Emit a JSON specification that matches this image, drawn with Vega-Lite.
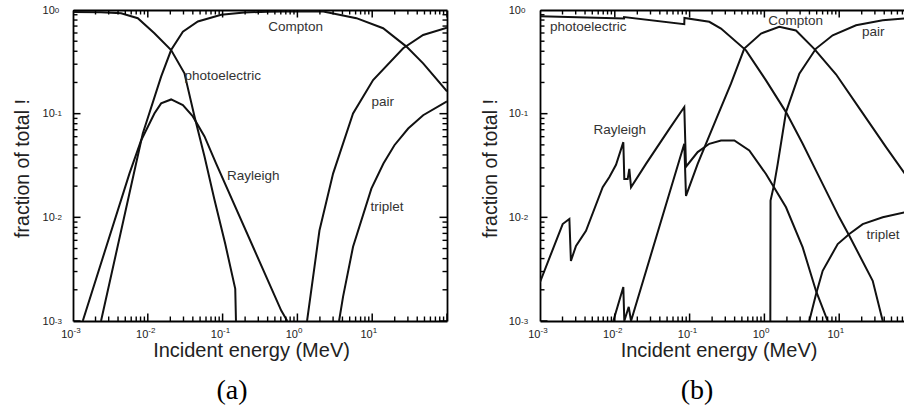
{
  "$schema": "https://vega.github.io/schema/vega-lite/v6.json",
  "background": "white",
  "padding": {"left": 12, "top": 4, "right": 0, "bottom": 0},
  "autosize": {"type": "pad"},
  "bounds": "flush",
  "spacing": 93,
  "config": {
    "font": "Liberation Sans",
    "view": {"stroke": null},
    "axis": {"grid": false, "ticks": false, "domainColor": "#000", "domainWidth": 1.8, "labelColor": "#222", "titleColor": "#222", "titleFontWeight": "normal", "labelFlush": false, "labelOverlap": false, "labelFont": "Liberation Sans", "titleFont": "Liberation Sans"},
    "tick": {"opacity": 1, "color": "#000"},
    "title": {"font": "Liberation Serif", "fontWeight": "normal", "color": "#000"}
  },
  "datasets": {
    "xMajA": [{"v": 0.001}, {"v": 0.01}, {"v": 0.1}, {"v": 1}, {"v": 10}, {"v": 100}],
    "xMinA": [{"v": 0.002}, {"v": 0.003}, {"v": 0.004}, {"v": 0.005}, {"v": 0.006}, {"v": 0.007}, {"v": 0.008}, {"v": 0.009}, {"v": 0.02}, {"v": 0.03}, {"v": 0.04}, {"v": 0.05}, {"v": 0.06}, {"v": 0.07}, {"v": 0.08}, {"v": 0.09}, {"v": 0.2}, {"v": 0.3}, {"v": 0.4}, {"v": 0.5}, {"v": 0.6}, {"v": 0.7}, {"v": 0.8}, {"v": 0.9}, {"v": 2}, {"v": 3}, {"v": 4}, {"v": 5}, {"v": 6}, {"v": 7}, {"v": 8}, {"v": 9}, {"v": 20}, {"v": 30}, {"v": 40}, {"v": 50}, {"v": 60}, {"v": 70}, {"v": 80}, {"v": 90}],
    "xMajB": [{"v": 0.001}, {"v": 0.01}, {"v": 0.1}, {"v": 1}, {"v": 10}],
    "xMinB": [{"v": 0.002}, {"v": 0.003}, {"v": 0.004}, {"v": 0.005}, {"v": 0.006}, {"v": 0.007}, {"v": 0.008}, {"v": 0.009}, {"v": 0.02}, {"v": 0.03}, {"v": 0.04}, {"v": 0.05}, {"v": 0.06}, {"v": 0.07}, {"v": 0.08}, {"v": 0.09}, {"v": 0.2}, {"v": 0.3}, {"v": 0.4}, {"v": 0.5}, {"v": 0.6}, {"v": 0.7}, {"v": 0.8}, {"v": 0.9}, {"v": 2}, {"v": 3}, {"v": 4}, {"v": 5}, {"v": 6}, {"v": 7}, {"v": 8}, {"v": 9}, {"v": 20}, {"v": 30}, {"v": 40}, {"v": 50}, {"v": 60}, {"v": 70}],
    "yMaj": [{"v": 0.001}, {"v": 0.01}, {"v": 0.1}, {"v": 1}],
    "yMin": [{"v": 0.002}, {"v": 0.003}, {"v": 0.004}, {"v": 0.005}, {"v": 0.006}, {"v": 0.007}, {"v": 0.008}, {"v": 0.009}, {"v": 0.02}, {"v": 0.03}, {"v": 0.04}, {"v": 0.05}, {"v": 0.06}, {"v": 0.07}, {"v": 0.08}, {"v": 0.09}, {"v": 0.2}, {"v": 0.3}, {"v": 0.4}, {"v": 0.5}, {"v": 0.6}, {"v": 0.7}, {"v": 0.8}, {"v": 0.9}],
    "a": [
      {"s": "photoelectric", "E": 0.001, "f": 0.955}, {"s": "photoelectric", "E": 0.00237, "f": 0.95}, {"s": "photoelectric", "E": 0.0044, "f": 0.93}, {"s": "photoelectric", "E": 0.00735, "f": 0.834}, {"s": "photoelectric", "E": 0.01225, "f": 0.597}, {"s": "photoelectric", "E": 0.0205, "f": 0.411}, {"s": "photoelectric", "E": 0.0309, "f": 0.245}, {"s": "photoelectric", "E": 0.0421, "f": 0.094}, {"s": "photoelectric", "E": 0.0573, "f": 0.0386}, {"s": "photoelectric", "E": 0.0773, "f": 0.0151}, {"s": "photoelectric", "E": 0.1084, "f": 0.00556}, {"s": "photoelectric", "E": 0.1476, "f": 0.00204}, {"s": "photoelectric", "E": 0.152, "f": 0.0008},
      {"s": "Compton", "E": 0.00237, "f": 0.001}, {"s": "Compton", "E": 0.00697, "f": 0.033}, {"s": "Compton", "E": 0.00857, "f": 0.0643}, {"s": "Compton", "E": 0.01507, "f": 0.2275}, {"s": "Compton", "E": 0.0205, "f": 0.411}, {"s": "Compton", "E": 0.02944, "f": 0.619}, {"s": "Compton", "E": 0.0467, "f": 0.774}, {"s": "Compton", "E": 0.0957, "f": 0.898}, {"s": "Compton", "E": 0.1945, "f": 0.946}, {"s": "Compton", "E": 0.398, "f": 0.964}, {"s": "Compton", "E": 1, "f": 0.973}, {"s": "Compton", "E": 2.223, "f": 0.968}, {"s": "Compton", "E": 6.152, "f": 0.834}, {"s": "Compton", "E": 13.99, "f": 0.667}, {"s": "Compton", "E": 28.71, "f": 0.4436}, {"s": "Compton", "E": 47.97, "f": 0.3055}, {"s": "Compton", "E": 100, "f": 0.164},
      {"s": "Rayleigh", "E": 0.00135, "f": 0.001}, {"s": "Rayleigh", "E": 0.00568, "f": 0.0264}, {"s": "Rayleigh", "E": 0.00813, "f": 0.0551}, {"s": "Rayleigh", "E": 0.01225, "f": 0.1005}, {"s": "Rayleigh", "E": 0.01507, "f": 0.1256}, {"s": "Rayleigh", "E": 0.0205, "f": 0.1371}, {"s": "Rayleigh", "E": 0.02944, "f": 0.1208}, {"s": "Rayleigh", "E": 0.04, "f": 0.094}, {"s": "Rayleigh", "E": 0.0573, "f": 0.0603}, {"s": "Rayleigh", "E": 0.082, "f": 0.033}, {"s": "Rayleigh", "E": 0.608, "f": 0.00126}, {"s": "Rayleigh", "E": 0.733, "f": 0.001},
      {"s": "pair", "E": 1.346, "f": 0.001}, {"s": "pair", "E": 1.972, "f": 0.00746}, {"s": "pair", "E": 2.999, "f": 0.0264}, {"s": "pair", "E": 5.546, "f": 0.1005}, {"s": "pair", "E": 10.28, "f": 0.2109}, {"s": "pair", "E": 25.94, "f": 0.4276}, {"s": "pair", "E": 47.97, "f": 0.5741}, {"s": "pair", "E": 100, "f": 0.6745},
      {"s": "triplet", "E": 3.606, "f": 0.001}, {"s": "triplet", "E": 4.074, "f": 0.00171}, {"s": "triplet", "E": 5.546, "f": 0.0052}, {"s": "triplet", "E": 9.75, "f": 0.0189}, {"s": "triplet", "E": 14.13, "f": 0.033}, {"s": "triplet", "E": 19.82, "f": 0.0496}, {"s": "triplet", "E": 30.27, "f": 0.0719}, {"s": "triplet", "E": 47.97, "f": 0.0966}, {"s": "triplet", "E": 100, "f": 0.1312}
    ],
    "aLabels": [
      {"t": "Compton", "E": 0.944, "f": 0.689}, {"t": "photoelectric", "E": 0.1006, "f": 0.229}, {"t": "Rayleigh", "E": 0.257, "f": 0.0252}, {"t": "pair", "E": 13.8, "f": 0.1294}, {"t": "triplet", "E": 15.8, "f": 0.01268}
    ],
    "b": [
      {"s": "photoelectric", "E": 0.001, "f": 0.871}, {"s": "photoelectric", "E": 0.01327, "f": 0.828}, {"s": "photoelectric", "E": 0.0133, "f": 0.855}, {"s": "photoelectric", "E": 0.0849, "f": 0.7295}, {"s": "photoelectric", "E": 0.0853, "f": 0.838}, {"s": "photoelectric", "E": 0.1832, "f": 0.769}, {"s": "photoelectric", "E": 0.263, "f": 0.662}, {"s": "photoelectric", "E": 0.5675, "f": 0.408}, {"s": "photoelectric", "E": 1.05, "f": 0.2094}, {"s": "photoelectric", "E": 1.945, "f": 0.1035}, {"s": "photoelectric", "E": 3.251, "f": 0.0512}, {"s": "photoelectric", "E": 4.898, "f": 0.02825}, {"s": "photoelectric", "E": 10.02, "f": 0.01}, {"s": "photoelectric", "E": 13.65, "f": 0.00664}, {"s": "photoelectric", "E": 28.05, "f": 0.00244}, {"s": "photoelectric", "E": 38.19, "f": 0.001},
      {"s": "Compton", "E": 0.00955, "f": 0.001}, {"s": "Compton", "E": 0.013, "f": 0.00213}, {"s": "Compton", "E": 0.0134, "f": 0.001}, {"s": "Compton", "E": 0.01535, "f": 0.00137}, {"s": "Compton", "E": 0.01648, "f": 0.001}, {"s": "Compton", "E": 0.0849, "f": 0.0512}, {"s": "Compton", "E": 0.0895, "f": 0.0161}, {"s": "Compton", "E": 0.1282, "f": 0.0328}, {"s": "Compton", "E": 0.2377, "f": 0.0962}, {"s": "Compton", "E": 0.3573, "f": 0.1945}, {"s": "Compton", "E": 0.5383, "f": 0.4246}, {"s": "Compton", "E": 0.9016, "f": 0.5929}, {"s": "Compton", "E": 1.581, "f": 0.6887}, {"s": "Compton", "E": 2.642, "f": 0.6339}, {"s": "Compton", "E": 4.603, "f": 0.4246}, {"s": "Compton", "E": 9.057, "f": 0.24}, {"s": "Compton", "E": 19.54, "f": 0.107}, {"s": "Compton", "E": 42.27, "f": 0.0475}, {"s": "Compton", "E": 75.8, "f": 0.0262},
      {"s": "pair", "E": 1.2, "f": 0.001}, {"s": "pair", "E": 1.208, "f": 0.0145}, {"s": "pair", "E": 1.355, "f": 0.021}, {"s": "pair", "E": 1.507, "f": 0.0328}, {"s": "pair", "E": 1.945, "f": 0.1035}, {"s": "pair", "E": 2.931, "f": 0.2432}, {"s": "pair", "E": 4.898, "f": 0.4246}, {"s": "pair", "E": 8.185, "f": 0.5702}, {"s": "pair", "E": 16.79, "f": 0.7129}, {"s": "pair", "E": 38.19, "f": 0.7962}, {"s": "pair", "E": 75.8, "f": 0.828},
      {"s": "triplet", "E": 3.981, "f": 0.001}, {"s": "triplet", "E": 4.898, "f": 0.00181}, {"s": "triplet", "E": 6.012, "f": 0.00305}, {"s": "triplet", "E": 9.55, "f": 0.00552}, {"s": "triplet", "E": 13.65, "f": 0.0069}, {"s": "triplet", "E": 20.61, "f": 0.0086}, {"s": "triplet", "E": 38.19, "f": 0.01}, {"s": "triplet", "E": 75.8, "f": 0.01117},
      {"s": "Rayleigh", "E": 0.001, "f": 0.00237}, {"s": "Rayleigh", "E": 0.00201, "f": 0.00861}, {"s": "Rayleigh", "E": 0.00247, "f": 0.00964}, {"s": "Rayleigh", "E": 0.00259, "f": 0.0038}, {"s": "Rayleigh", "E": 0.00303, "f": 0.00531}, {"s": "Rayleigh", "E": 0.00412, "f": 0.00741}, {"s": "Rayleigh", "E": 0.00689, "f": 0.0195}, {"s": "Rayleigh", "E": 0.00843, "f": 0.0244}, {"s": "Rayleigh", "E": 0.01038, "f": 0.0321}, {"s": "Rayleigh", "E": 0.013, "f": 0.0531}, {"s": "Rayleigh", "E": 0.0134, "f": 0.0234}, {"s": "Rayleigh", "E": 0.01486, "f": 0.0234}, {"s": "Rayleigh", "E": 0.01563, "f": 0.0293}, {"s": "Rayleigh", "E": 0.01648, "f": 0.0195}, {"s": "Rayleigh", "E": 0.02612, "f": 0.0328}, {"s": "Rayleigh", "E": 0.0536, "f": 0.0714}, {"s": "Rayleigh", "E": 0.0849, "f": 0.1159}, {"s": "Rayleigh", "E": 0.0895, "f": 0.0308}, {"s": "Rayleigh", "E": 0.1282, "f": 0.0426}, {"s": "Rayleigh", "E": 0.1832, "f": 0.0512}, {"s": "Rayleigh", "E": 0.263, "f": 0.0551}, {"s": "Rayleigh", "E": 0.3963, "f": 0.0551}, {"s": "Rayleigh", "E": 0.6281, "f": 0.0441}, {"s": "Rayleigh", "E": 1.05, "f": 0.0262}, {"s": "Rayleigh", "E": 1.945, "f": 0.0125}, {"s": "Rayleigh", "E": 3.251, "f": 0.00513}, {"s": "Rayleigh", "E": 4.898, "f": 0.00195}, {"s": "Rayleigh", "E": 7.015, "f": 0.001}
    ],
    "bLabels": [
      {"t": "photoelectric", "E": 0.00441, "f": 0.689}, {"t": "Rayleigh", "E": 0.01167, "f": 0.0689}, {"t": "Compton", "E": 2.62, "f": 0.787}, {"t": "pair", "E": 28.5, "f": 0.615}, {"t": "triplet", "E": 38.5, "f": 0.00679}
    ]
  },
  "hconcat": [
    {
      "width": 374, "height": 311,
      "title": {"text": "(a)", "orient": "bottom", "anchor": "start", "frame": "group", "align": "center", "dx": 159, "fontSize": 28, "baseline": "alphabetic", "offset": 38},
      "layer": [
        {"data": {"name": "a"},
         "mark": {"type": "line", "clip": true, "color": "#111", "strokeWidth": 2},
         "encoding": {
           "x": {"field": "E", "type": "quantitative", "scale": {"type": "log", "domain": [0.001, 100], "nice": false}, "axis": {"orient": "bottom", "values": [0.001, 0.01, 0.1, 1, 10], "domain": true, "labelExpr": "'10'", "labelAlign": "right", "labelBaseline": "alphabetic", "labelPadding": 16, "labelDx": -1.5, "labelFontSize": 11, "title": "Incident energy (MeV)", "titleFontSize": 20, "titleX": 178, "titleY": 35.5, "titleAlign": "center", "titleBaseline": "alphabetic", "titleAngle": 0}},
           "y": {"field": "f", "type": "quantitative", "scale": {"type": "log", "domain": [0.001, 1], "nice": false}, "axis": {"orient": "left", "values": [0.001, 0.01, 0.1, 1], "domain": true, "labelExpr": "'10'", "labelAlign": "right", "labelBaseline": "middle", "labelPadding": 18.7, "labelDy": 1, "labelFontSize": 11, "title": "fraction of total !", "titleFontSize": 19.5, "titleAngle": -90, "titleX": -45, "titleY": 158, "titleAlign": "center", "titleBaseline": "alphabetic"}},
           "detail": {"field": "s"}}},
        {"data": {"name": "xMajA"},
         "mark": {"type": "tick", "orient": "vertical", "size": 15, "thickness": 1.5, "clip": true},
         "encoding": {
           "x": {"field": "v", "type": "quantitative", "scale": {"type": "log", "domain": [0.001, 100], "nice": false}, "axis": {"orient": "bottom", "values": [0.001, 0.01, 0.1, 1, 10], "domain": false, "labelExpr": "'' + round(log(datum.value) / LN10)", "labelAlign": "left", "labelBaseline": "alphabetic", "labelPadding": 11.7, "labelDx": -1.5, "labelFontSize": 8, "title": null}},
           "y": {"datum": 0.001, "type": "quantitative", "scale": {"type": "log", "domain": [0.001, 1], "nice": false}, "axis": null}}},
        {"data": {"name": "xMinA"},
         "mark": {"type": "tick", "orient": "vertical", "size": 9, "thickness": 1.4, "clip": true},
         "encoding": {
           "x": {"field": "v", "type": "quantitative", "scale": {"type": "log", "domain": [0.001, 100], "nice": false}, "axis": null},
           "y": {"datum": 0.001, "type": "quantitative", "scale": {"type": "log", "domain": [0.001, 1], "nice": false}, "axis": null}}},
        {"data": {"name": "xMajA"},
         "mark": {"type": "tick", "orient": "vertical", "size": 15, "thickness": 1.5, "clip": true},
         "encoding": {
           "x": {"field": "v", "type": "quantitative", "scale": {"type": "log", "domain": [0.001, 100], "nice": false}, "axis": {"orient": "top", "labels": false, "domain": true, "title": null}},
           "y": {"datum": 1, "type": "quantitative", "scale": {"type": "log", "domain": [0.001, 1], "nice": false}, "axis": null}}},
        {"data": {"name": "xMinA"},
         "mark": {"type": "tick", "orient": "vertical", "size": 9, "thickness": 1.4, "clip": true},
         "encoding": {
           "x": {"field": "v", "type": "quantitative", "scale": {"type": "log", "domain": [0.001, 100], "nice": false}, "axis": null},
           "y": {"datum": 1, "type": "quantitative", "scale": {"type": "log", "domain": [0.001, 1], "nice": false}, "axis": null}}},
        {"data": {"name": "yMaj"},
         "mark": {"type": "tick", "orient": "horizontal", "size": 15, "thickness": 1.5, "clip": true},
         "encoding": {
           "y": {"field": "v", "type": "quantitative", "scale": {"type": "log", "domain": [0.001, 1], "nice": false}, "axis": {"orient": "left", "values": [0.001, 0.01, 0.1, 1], "domain": false, "labelExpr": "'' + round(log(datum.value) / LN10)", "labelAlign": "left", "labelBaseline": "middle", "labelPadding": 18.7, "labelDy": -4, "labelFontSize": 8, "title": null}},
           "x": {"datum": 0.001, "type": "quantitative", "scale": {"type": "log", "domain": [0.001, 100], "nice": false}, "axis": null}}},
        {"data": {"name": "yMin"},
         "mark": {"type": "tick", "orient": "horizontal", "size": 9, "thickness": 1.4, "clip": true},
         "encoding": {
           "y": {"field": "v", "type": "quantitative", "scale": {"type": "log", "domain": [0.001, 1], "nice": false}, "axis": null},
           "x": {"datum": 0.001, "type": "quantitative", "scale": {"type": "log", "domain": [0.001, 100], "nice": false}, "axis": null}}},
        {"data": {"name": "yMaj"},
         "mark": {"type": "tick", "orient": "horizontal", "size": 15, "thickness": 1.5, "clip": true},
         "encoding": {
           "y": {"field": "v", "type": "quantitative", "scale": {"type": "log", "domain": [0.001, 1], "nice": false}, "axis": {"orient": "right", "labels": false, "domain": true, "title": null}},
           "x": {"datum": 100, "type": "quantitative", "scale": {"type": "log", "domain": [0.001, 100], "nice": false}, "axis": null}}},
        {"data": {"name": "yMin"},
         "mark": {"type": "tick", "orient": "horizontal", "size": 9, "thickness": 1.4, "clip": true},
         "encoding": {
           "y": {"field": "v", "type": "quantitative", "scale": {"type": "log", "domain": [0.001, 1], "nice": false}, "axis": null},
           "x": {"datum": 100, "type": "quantitative", "scale": {"type": "log", "domain": [0.001, 100], "nice": false}, "axis": null}}},
        {"data": {"name": "aLabels"},
         "mark": {"type": "text", "fontSize": 13.5, "color": "#333", "align": "center", "baseline": "middle"},
         "encoding": {
           "x": {"field": "E", "type": "quantitative", "scale": {"type": "log", "domain": [0.001, 100], "nice": false}, "axis": null},
           "y": {"field": "f", "type": "quantitative", "scale": {"type": "log", "domain": [0.001, 1], "nice": false}, "axis": null},
           "text": {"field": "t"}}}
      ],
      "resolve": {"axis": {"x": "independent", "y": "independent"}}
    },
    {
      "width": 365, "height": 311,
      "title": {"text": "(b)", "orient": "bottom", "anchor": "start", "frame": "group", "align": "center", "dx": 157, "fontSize": 28, "baseline": "alphabetic", "offset": 38},
      "layer": [
        {"data": {"name": "b"},
         "mark": {"type": "line", "clip": true, "color": "#111", "strokeWidth": 2},
         "encoding": {
           "x": {"field": "E", "type": "quantitative", "scale": {"type": "log", "domain": [0.001, 75.8], "nice": false}, "axis": {"orient": "bottom", "values": [0.001, 0.01, 0.1, 1, 10], "domain": true, "labelExpr": "'10'", "labelAlign": "right", "labelBaseline": "alphabetic", "labelPadding": 16, "labelDx": -1.5, "labelFontSize": 11, "title": "Incident energy (MeV)", "titleFontSize": 20, "titleX": 178.5, "titleY": 35.5, "titleAlign": "center", "titleBaseline": "alphabetic", "titleAngle": 0}},
           "y": {"field": "f", "type": "quantitative", "scale": {"type": "log", "domain": [0.001, 1], "nice": false}, "axis": {"orient": "left", "values": [0.001, 0.01, 0.1, 1], "domain": true, "labelExpr": "'10'", "labelAlign": "right", "labelBaseline": "middle", "labelPadding": 19.5, "labelDy": 1, "labelFontSize": 11, "title": "fraction of total !", "titleFontSize": 19.5, "titleAngle": -90, "titleX": -44, "titleY": 158, "titleAlign": "center", "titleBaseline": "alphabetic"}},
           "detail": {"field": "s"}}},
        {"data": {"name": "xMajB"},
         "mark": {"type": "tick", "orient": "vertical", "size": 15, "thickness": 1.5, "clip": true},
         "encoding": {
           "x": {"field": "v", "type": "quantitative", "scale": {"type": "log", "domain": [0.001, 75.8], "nice": false}, "axis": {"orient": "bottom", "values": [0.001, 0.01, 0.1, 1, 10], "domain": false, "labelExpr": "'' + round(log(datum.value) / LN10)", "labelAlign": "left", "labelBaseline": "alphabetic", "labelPadding": 11.7, "labelDx": -1.5, "labelFontSize": 8, "title": null}},
           "y": {"datum": 0.001, "type": "quantitative", "scale": {"type": "log", "domain": [0.001, 1], "nice": false}, "axis": null}}},
        {"data": {"name": "xMinB"},
         "mark": {"type": "tick", "orient": "vertical", "size": 9, "thickness": 1.4, "clip": true},
         "encoding": {
           "x": {"field": "v", "type": "quantitative", "scale": {"type": "log", "domain": [0.001, 75.8], "nice": false}, "axis": null},
           "y": {"datum": 0.001, "type": "quantitative", "scale": {"type": "log", "domain": [0.001, 1], "nice": false}, "axis": null}}},
        {"data": {"name": "xMajB"},
         "mark": {"type": "tick", "orient": "vertical", "size": 15, "thickness": 1.5, "clip": true},
         "encoding": {
           "x": {"field": "v", "type": "quantitative", "scale": {"type": "log", "domain": [0.001, 75.8], "nice": false}, "axis": {"orient": "top", "labels": false, "domain": true, "title": null}},
           "y": {"datum": 1, "type": "quantitative", "scale": {"type": "log", "domain": [0.001, 1], "nice": false}, "axis": null}}},
        {"data": {"name": "xMinB"},
         "mark": {"type": "tick", "orient": "vertical", "size": 9, "thickness": 1.4, "clip": true},
         "encoding": {
           "x": {"field": "v", "type": "quantitative", "scale": {"type": "log", "domain": [0.001, 75.8], "nice": false}, "axis": null},
           "y": {"datum": 1, "type": "quantitative", "scale": {"type": "log", "domain": [0.001, 1], "nice": false}, "axis": null}}},
        {"data": {"name": "yMaj"},
         "mark": {"type": "tick", "orient": "horizontal", "size": 15, "thickness": 1.5, "clip": true},
         "encoding": {
           "y": {"field": "v", "type": "quantitative", "scale": {"type": "log", "domain": [0.001, 1], "nice": false}, "axis": {"orient": "left", "values": [0.001, 0.01, 0.1, 1], "domain": false, "labelExpr": "'' + round(log(datum.value) / LN10)", "labelAlign": "left", "labelBaseline": "middle", "labelPadding": 19.5, "labelDy": -4, "labelFontSize": 8, "title": null}},
           "x": {"datum": 0.001, "type": "quantitative", "scale": {"type": "log", "domain": [0.001, 75.8], "nice": false}, "axis": null}}},
        {"data": {"name": "yMin"},
         "mark": {"type": "tick", "orient": "horizontal", "size": 9, "thickness": 1.4, "clip": true},
         "encoding": {
           "y": {"field": "v", "type": "quantitative", "scale": {"type": "log", "domain": [0.001, 1], "nice": false}, "axis": null},
           "x": {"datum": 0.001, "type": "quantitative", "scale": {"type": "log", "domain": [0.001, 75.8], "nice": false}, "axis": null}}},
        {"data": {"name": "bLabels"},
         "mark": {"type": "text", "fontSize": 13.5, "color": "#333", "align": "center", "baseline": "middle"},
         "encoding": {
           "x": {"field": "E", "type": "quantitative", "scale": {"type": "log", "domain": [0.001, 75.8], "nice": false}, "axis": null},
           "y": {"field": "f", "type": "quantitative", "scale": {"type": "log", "domain": [0.001, 1], "nice": false}, "axis": null},
           "text": {"field": "t"}}}
      ],
      "resolve": {"axis": {"x": "independent", "y": "independent"}}
    }
  ]
}
